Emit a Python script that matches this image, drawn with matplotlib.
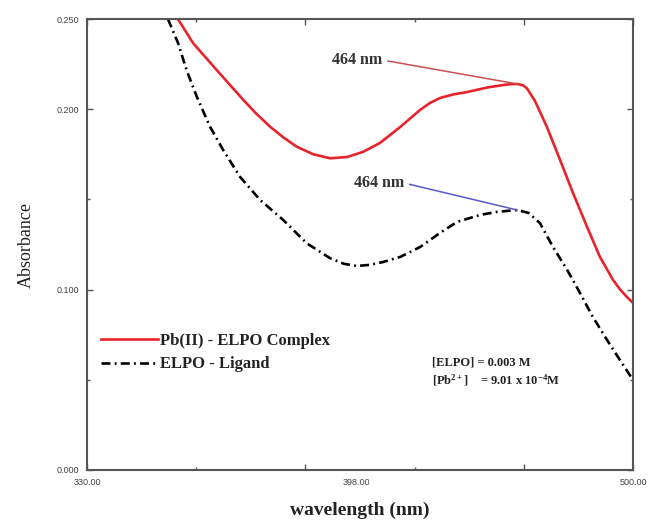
import matplotlib
matplotlib.use("Agg")
import matplotlib.pyplot as plt
import matplotlib.transforms as mtransforms

plt.rcParams['mathtext.fontset'] = 'custom'
plt.rcParams['mathtext.rm'] = 'Liberation Serif:bold'
plt.rcParams['mathtext.it'] = 'Liberation Serif:bold'
plt.rcParams['mathtext.bf'] = 'Liberation Serif:bold'

# Pb(II)-ELPO complex spectrum
complex_wl = [358.3, 363.1, 366.8, 370.4, 374.6, 378.7, 382.8, 387.0, 391.2, 395.3, 400.5,
              405.7, 411.0, 416.0, 421.2, 427.5, 433.7, 436.8, 439.9, 444.0, 448.3, 454.5,
              459.5, 462.0, 464.0, 465.8, 467.0, 469.5, 473.2, 477.3, 481.3, 485.7, 489.7,
              493.8, 496.0, 498.1, 500.0]
complex_abs = [0.250, 0.2365, 0.2290, 0.2217, 0.2133, 0.2051, 0.1974, 0.1903, 0.1843, 0.1792,
               0.1750, 0.1728, 0.1735, 0.1764, 0.1813, 0.1901, 0.1996, 0.2035, 0.2062, 0.2082,
               0.2095, 0.2120, 0.2134, 0.2139, 0.2140, 0.2132, 0.2115, 0.2045, 0.1901, 0.1718,
               0.1536, 0.1347, 0.1181, 0.1053, 0.1000, 0.0959, 0.0926]

# ELPO ligand spectrum
ligand_wl = [355.2, 358.4, 361.0, 364.2, 368.3, 372.4, 377.6, 383.9, 391.1, 398.4,
             405.7, 410.0, 414.0, 418.0, 422.2, 427.5, 433.7, 439.9, 445.2, 452.4,
             458.0, 464.0, 467.5, 471.0, 475.1, 479.5, 483.5, 487.5, 491.9, 495.9, 500.0]
ligand_abs = [0.250, 0.2365, 0.2217, 0.2069, 0.1903, 0.1774, 0.1626, 0.1497, 0.1386, 0.1257,
              0.1174, 0.1143, 0.1131, 0.1137, 0.1153, 0.1181, 0.1236, 0.1314, 0.1375, 0.1414,
              0.1432, 0.1441, 0.1425, 0.1369, 0.1236, 0.1109, 0.0981, 0.0848, 0.0721, 0.0610, 0.0499]

peak_wl = 464.0
complex_peak = 0.2140
ligand_peak = 0.1441

x_major = [330, 398, 466, 500]
x_major_labels = ["330.00", "398.00", "", "500.00"]
x_minor = [364, 432]
y_major = [0.0, 0.1, 0.2, 0.25]
y_major_labels = ["0.000", "0.100", "0.200", "0.250"]
y_minor = [0.05, 0.15]

serif = "Liberation Serif"
gray = "#555555"

fig = plt.figure(figsize=(6.51, 5.27), dpi=100)
ax = fig.add_axes([0.1336, 0.1082, 0.8388, 0.8557])

ax.plot(complex_wl, complex_abs, color="#e8232b", lw=1.9, label="Pb(II) - ELPO Complex",
        solid_joinstyle="round")
ax.plot(ligand_wl, ligand_abs, color="black", lw=1.9, linestyle=(0, (3.4, 1.6, 0.7, 1.6)),
        label="ELPO - Ligand")

ax.set_xlim(330, 500)
ax.set_ylim(0, 0.25)

ax.set_xticks(x_major)
ax.set_xticklabels(x_major_labels)
ax.set_xticks(x_minor, minor=True)
ax.set_yticks(y_major)
ax.set_yticklabels(y_major_labels)
ax.set_yticks(y_minor, minor=True)

ax.tick_params(which="both", direction="in", top=True, right=True, color=gray,
               labelcolor="#444444", labelsize=6.5, width=1.0)
ax.tick_params(which="major", length=4.5, pad=6)
ax.tick_params(which="minor", length=2.5)
for lab in ax.get_xticklabels() + ax.get_yticklabels():
    lab.set_fontfamily("Liberation Sans")

# middle wavelength label sits to the right of its tick
mid = ax.get_xticklabels()[1]
mid.set_transform(mid.get_transform() + mtransforms.ScaledTranslation(51 / 100, 0, fig.dpi_scale_trans))

for sp in ax.spines.values():
    sp.set_color(gray)
    sp.set_linewidth(1.5)

ax.set_xlabel("wavelength (nm)", fontfamily=serif, fontweight="bold", fontsize=14,
              color="#222222", labelpad=10)
ax.set_ylabel("Absorbance", fontfamily=serif, fontsize=13, color="#222222", labelpad=15)

ax.annotate("464 nm", xy=(peak_wl, complex_peak), xytext=(421.9, 0.2273),
            ha="right", va="center", fontfamily=serif, fontweight="bold", fontsize=11.5,
            color="#333333",
            arrowprops=dict(arrowstyle="-", color="#c9504f", lw=1.1, shrinkA=2, shrinkB=0,
                            relpos=(1, 0.5)))
ax.annotate("464 nm", xy=(peak_wl, ligand_peak), xytext=(428.7, 0.1591),
            ha="right", va="center", fontfamily=serif, fontweight="bold", fontsize=11.5,
            color="#333333",
            arrowprops=dict(arrowstyle="-", color="#5858c8", lw=1.1, shrinkA=2, shrinkB=0,
                            relpos=(1, 0.5)))

leg = ax.legend(loc="center left", bbox_to_anchor=(0.026, 0.26), frameon=False,
                borderpad=0, borderaxespad=0, handlelength=3.4, handletextpad=0.1,
                labelspacing=0.45, prop={"family": serif, "weight": "bold", "size": 12})
for t in leg.get_texts():
    t.set_color("#222222")

ax.text(0.631, 0.238, "[ELPO] = 0.003 M", transform=ax.transAxes, fontfamily=serif,
        fontweight="bold", fontsize=9, color="#222222", va="center", ha="left")
ax.text(0.631, 0.200, r"[Pb$^{2+}$]    = 9.01 x 10$^{-4}$M", transform=ax.transAxes,
        fontfamily=serif, fontweight="bold", fontsize=9, color="#222222", va="center", ha="left")

fig.savefig("out.png", dpi=100)
